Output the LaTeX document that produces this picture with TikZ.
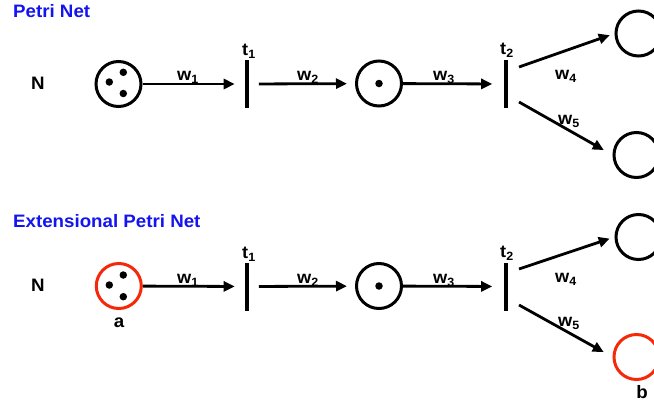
\documentclass[tikz,border=0pt]{standalone}
\usepackage{fontspec}
\setmainfont{Liberation Sans}[FakeStretch=1.04]
\usetikzlibrary{arrows.meta}
\definecolor{titleblue}{RGB}{20,20,240}
\definecolor{pred}{RGB}{245,40,10}
\newcommand\mysub[1]{\raisebox{-0.4ex}{\fontsize{12}{12}\selectfont #1}}
\begin{document}
\begin{tikzpicture}[x=1pt,y=-1pt,
  place/.style={circle,draw,line width=3pt,minimum size=45pt,inner sep=0pt},
  tok/.style={circle,fill,inner sep=0pt,minimum size=7.5pt},
  trans/.style={fill,rectangle,inner sep=0pt,minimum width=3.2pt,minimum height=48pt},
  arc/.style={line width=2.8pt,-{Triangle[length=11pt,width=10pt]}},
  lbl/.style={font=\fontsize{17.5}{17.5}\bfseries\selectfont,inner sep=0pt,anchor=base west},
  ttl/.style={font=\fontsize{18}{18}\bfseries\selectfont,text=titleblue,inner sep=0pt,anchor=west},
  nlbl/.style={font=\fontsize{18}{18}\bfseries\selectfont,inner sep=0pt}]
\useasboundingbox (0,0) rectangle (654,405);
\clip (0,0) rectangle (654,405);

% ---------- Top: Petri Net ----------
\node[ttl] (title1) at (13,11) {Petri Net};
\node[nlbl] (n1) at (38,83.5) {N};
\node[place] (p1) at (118.5,84) {};
\node[tok] (k1a) at (123.3,72.3) {};
\node[tok] (k1b) at (109.3,82) {};
\node[tok] (k1c) at (123.3,93.5) {};
\node[trans] (t1) at (247,84) {};
\node[place] (p2) at (379,83.5) {};
\node[tok] (k2) at (379,83.5) {};
\node[trans] (t2) at (506,84) {};
\node[place] (p3) at (638.5,33.5) {};
\node[place] (p4) at (636.5,155) {};
\coordinate (s4) at (519,67);
\coordinate (s5) at (519,102);

\draw[arc,shorten >=10.5pt] (p1) -- (t1);
\draw[arc,shorten <=10pt,shorten >=8pt] (t1) -- (p2);
\draw[arc,shorten >=12pt] (p2) -- (t2);
\draw[arc,shorten >=5pt] (s4) -- (p3.west);
\draw[arc,shorten >=10pt] (s5) -- (p4.west);

\node[lbl] (lw1) at (177,80) {w\mysub{1}};
\node[lbl] (lw2) at (297,80) {w\mysub{2}};
\node[lbl] (lw3) at (433,80) {w\mysub{3}};
\node[lbl] (lw4) at (555,79) {w\mysub{4}};
\node[lbl] (lw5) at (558,124) {w\mysub{5}};
\node[lbl] (lt1) at (242,55) {t\mysub{1}};
\node[lbl] (lt2) at (500,54) {t\mysub{2}};

% ---------- Bottom: Extensional Petri Net ----------
\node[ttl] (title2) at (13,221) {Extensional Petri Net};
\node[nlbl] (n2) at (38,285.5) {N};
\node[place,draw=pred] (q1) at (118.8,286) {};
\node[tok] (m1a) at (123.3,275) {};
\node[tok] (m1b) at (109.3,285) {};
\node[tok] (m1c) at (123.3,296.7) {};
\node[trans] (u1) at (247,286.5) {};
\node[place] (q2) at (379,286) {};
\node[tok] (m2) at (379,286) {};
\node[trans] (u2) at (506,286.5) {};
\node[place] (q3) at (638.5,237) {};
\node[place,draw=pred] (q4) at (636.5,357) {};
\coordinate (r4) at (519,269);
\coordinate (r5) at (519,305);

\draw[arc,shorten >=10.5pt] (q1) -- (u1);
\draw[arc,shorten <=10pt,shorten >=8pt] (u1) -- (q2);
\draw[arc,shorten >=12pt] (q2) -- (u2);
\draw[arc,shorten >=5pt] (r4) -- (q3.west);
\draw[arc,shorten >=10pt] (r5) -- (q4.west);

\node[lbl] (mw1) at (177,283) {w\mysub{1}};
\node[lbl] (mw2) at (297,283) {w\mysub{2}};
\node[lbl] (mw3) at (433,283) {w\mysub{3}};
\node[lbl] (mw4) at (555,282) {w\mysub{4}};
\node[lbl] (mw5) at (558,326) {w\mysub{5}};
\node[lbl] (mt1) at (242,258) {t\mysub{1}};
\node[lbl] (mt2) at (500,257) {t\mysub{2}};
\node[nlbl,anchor=base] (la) at (119,327) {a};
\node[nlbl,anchor=base] (lb) at (642,398) {b};
\end{tikzpicture}
\end{document}
